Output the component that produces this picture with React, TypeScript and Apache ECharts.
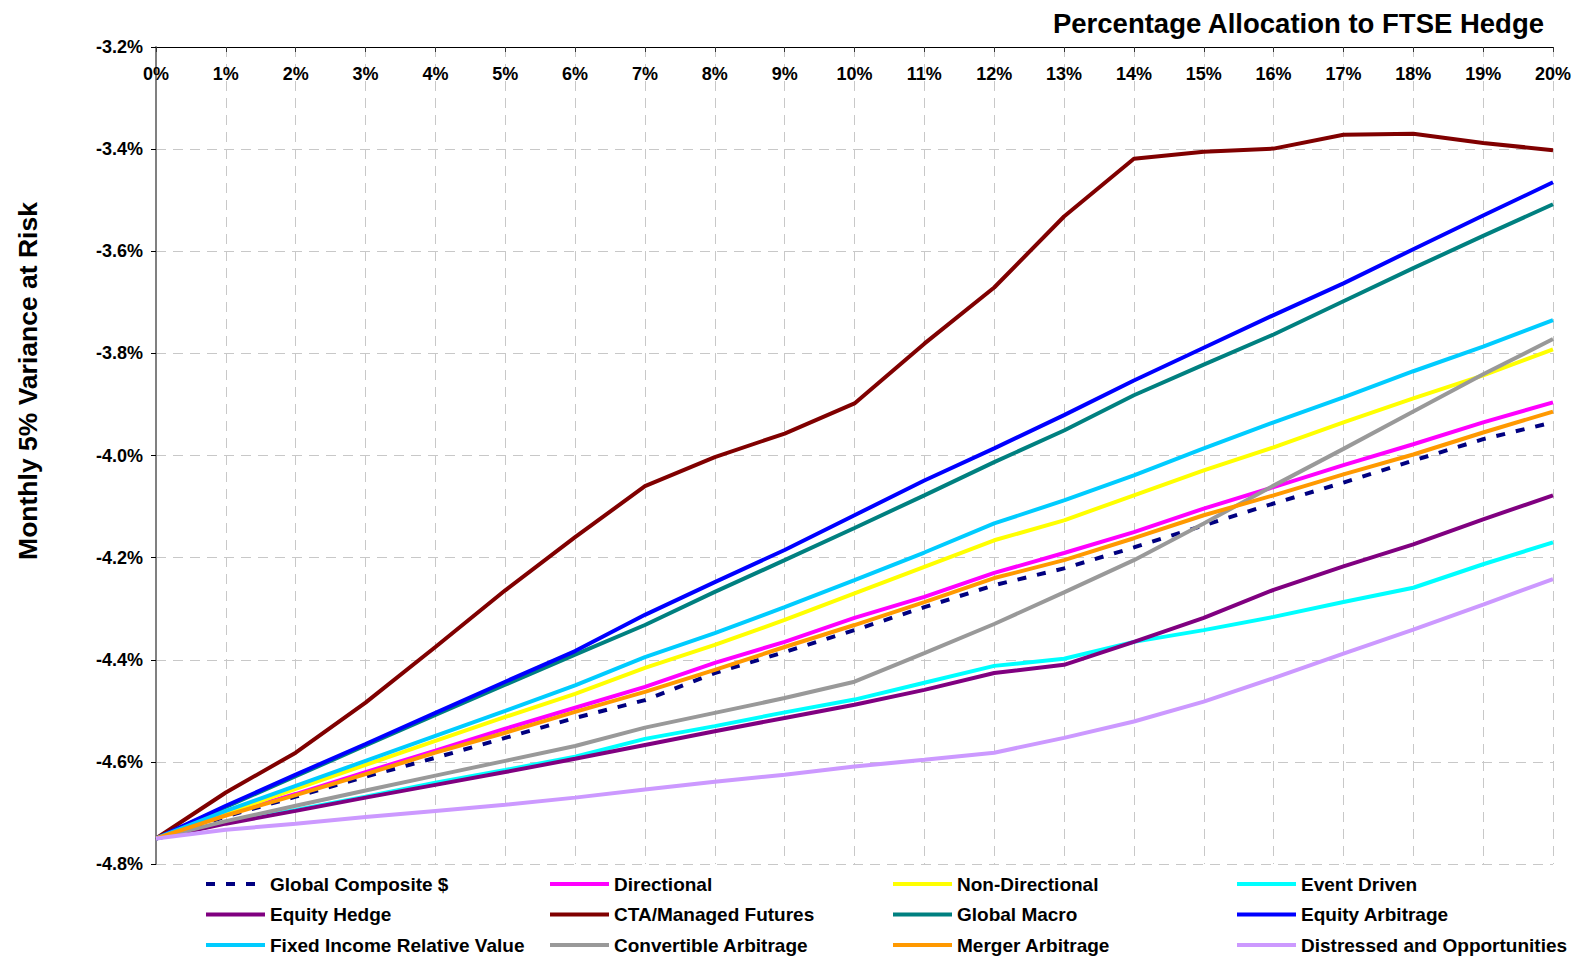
import React, { useEffect, useRef } from "react";
import * as echarts from "echarts";

const categories = ["0%", "1%", "2%", "3%", "4%", "5%", "6%", "7%", "8%", "9%", "10%", "11%", "12%", "13%", "14%", "15%", "16%", "17%", "18%", "19%", "20%"];

const globalComposite = [-4.75, -4.707, -4.668, -4.629, -4.592, -4.553, -4.514, -4.479, -4.426, -4.385, -4.342, -4.297, -4.254, -4.221, -4.18, -4.137, -4.094, -4.053, -4.01, -3.968, -3.935];
const directional = [-4.75, -4.703, -4.663, -4.62, -4.578, -4.535, -4.494, -4.453, -4.406, -4.365, -4.318, -4.277, -4.23, -4.191, -4.15, -4.104, -4.062, -4.019, -3.978, -3.935, -3.896];
const nonDirectional = [-4.75, -4.7, -4.653, -4.606, -4.559, -4.512, -4.467, -4.416, -4.371, -4.322, -4.27, -4.218, -4.166, -4.127, -4.078, -4.029, -3.984, -3.935, -3.888, -3.843, -3.792];
const eventDriven = [-4.75, -4.719, -4.694, -4.668, -4.641, -4.616, -4.59, -4.555, -4.53, -4.503, -4.478, -4.445, -4.412, -4.398, -4.365, -4.342, -4.316, -4.287, -4.259, -4.213, -4.17];
const equityHedge = [-4.75, -4.721, -4.696, -4.67, -4.645, -4.62, -4.594, -4.567, -4.54, -4.514, -4.488, -4.459, -4.426, -4.41, -4.365, -4.318, -4.263, -4.217, -4.174, -4.125, -4.078];
const ctaManagedFutures = [-4.75, -4.66, -4.582, -4.484, -4.375, -4.264, -4.16, -4.06, -4.003, -3.957, -3.898, -3.781, -3.671, -3.532, -3.419, -3.405, -3.399, -3.372, -3.37, -3.388, -3.402];
const globalMacro = [-4.75, -4.688, -4.628, -4.568, -4.508, -4.449, -4.39, -4.332, -4.267, -4.205, -4.142, -4.078, -4.013, -3.951, -3.882, -3.822, -3.763, -3.698, -3.633, -3.57, -3.508];
const equityArbitrage = [-4.75, -4.686, -4.625, -4.565, -4.504, -4.443, -4.383, -4.312, -4.248, -4.185, -4.117, -4.049, -3.986, -3.921, -3.853, -3.789, -3.725, -3.663, -3.596, -3.53, -3.465];
const fixedIncomeRV = [-4.75, -4.696, -4.647, -4.598, -4.549, -4.5, -4.45, -4.395, -4.348, -4.297, -4.244, -4.19, -4.133, -4.088, -4.039, -3.986, -3.935, -3.886, -3.835, -3.787, -3.735];
const convertibleArbitrage = [-4.75, -4.716, -4.686, -4.656, -4.627, -4.598, -4.569, -4.533, -4.504, -4.475, -4.443, -4.387, -4.33, -4.268, -4.205, -4.133, -4.059, -3.987, -3.914, -3.841, -3.772];
const mergerArbitrage = [-4.75, -4.705, -4.665, -4.624, -4.582, -4.543, -4.502, -4.463, -4.42, -4.375, -4.332, -4.287, -4.24, -4.205, -4.162, -4.117, -4.078, -4.037, -3.998, -3.955, -3.914];
const distressed = [-4.75, -4.733, -4.721, -4.708, -4.696, -4.684, -4.67, -4.654, -4.639, -4.625, -4.609, -4.596, -4.582, -4.553, -4.521, -4.482, -4.436, -4.388, -4.341, -4.292, -4.242];

const seriesNames = [
  "Global Composite $", "Directional", "Non-Directional", "Event Driven",
  "Equity Hedge", "CTA/Managed Futures", "Global Macro", "Equity Arbitrage",
  "Fixed Income Relative Value", "Convertible Arbitrage", "Merger Arbitrage", "Distressed and Opportunities",
];
const seriesData = [
  globalComposite, directional, nonDirectional, eventDriven,
  equityHedge, ctaManagedFutures, globalMacro, equityArbitrage,
  fixedIncomeRV, convertibleArbitrage, mergerArbitrage, distressed,
];
const seriesColors = [
  "#000080", "#FF00FF", "#FFFF00", "#00FFFF",
  "#800080", "#800000", "#008080", "#0000FF",
  "#00CCFF", "#999999", "#FF9900", "#CC99FF",
];

const yMin = -4.8;
const yMax = -3.2;
const yStep = 0.2;

const titleText = "Percentage Allocation to FTSE Hedge";
const yAxisTitle = "Monthly 5% Variance at Risk";

export default function App() {
  const ref = useRef<HTMLDivElement>(null);

  useEffect(() => {
    if (!ref.current) return;
    const chart = echarts.init(ref.current, null, { renderer: "svg" });
    const fontFamily = "'Liberation Sans', Arial, Helvetica, sans-serif";

    const series = seriesNames.map((name, i) => ({
      name,
      type: "line",
      data: seriesData[i],
      symbol: "none",
      smooth: false,
      silent: true,
      z: 2 + i,
      lineStyle: {
        color: seriesColors[i],
        width: 4,
        type: i === 0 ? [9, 11] : "solid",
        cap: "butt",
      },
      itemStyle: { color: seriesColors[i] },
    }));

    const legendCols = [
      { left: 204, names: [seriesNames[0], seriesNames[4], seriesNames[8]] },
      { left: 548, names: [seriesNames[1], seriesNames[5], seriesNames[9]] },
      { left: 891, names: [seriesNames[2], seriesNames[6], seriesNames[10]] },
      { left: 1235, names: [seriesNames[3], seriesNames[7], seriesNames[11]] },
    ];

    const legends = legendCols.map((c) => ({
      orient: "vertical",
      left: c.left,
      top: 874,
      padding: 0,
      itemGap: 10.5,
      itemWidth: 59,
      itemHeight: 14,
      selectedMode: false,
      data: c.names,
      itemStyle: { opacity: 0 },
      lineStyle: { width: 4 },
      textStyle: {
        fontFamily,
        fontWeight: "bold",
        fontSize: 19,
        lineHeight: 20,
        color: "#000",
      },
    }));

    const option = {
      animation: false,
      backgroundColor: "#ffffff",
      grid: { left: 156, right: 24, top: 47, bottom: 92, containLabel: false },
      legend: legends,
      xAxis: {
        type: "category",
        position: "top",
        data: categories,
        boundaryGap: false,
        axisLine: { show: true, onZero: false, lineStyle: { color: "#000", width: 1 } },
        axisTick: { show: true, inside: true, length: 5, alignWithLabel: true, lineStyle: { color: "#333" } },
        axisLabel: {
          inside: true,
          margin: 18,
          interval: 0,
          fontFamily,
          fontWeight: "bold",
          fontSize: 18,
          color: "#000",
        },
        splitLine: { show: true, lineStyle: { color: "#c8c8c8", width: 1, type: [10, 7] } },
      },
      yAxis: {
        type: "value",
        min: yMin,
        max: yMax,
        interval: yStep,
        axisLine: { show: true, onZero: false, lineStyle: { color: "#808080", width: 2 } },
        axisTick: { show: true, length: 5, lineStyle: { color: "#000" } },
        axisLabel: {
          margin: 13,
          fontFamily,
          fontWeight: "bold",
          fontSize: 18,
          color: "#000",
          formatter: (v: number) => v.toFixed(1) + "%",
        },
        splitLine: { show: true, lineStyle: { color: "#c8c8c8", width: 1, type: [10, 7] } },
      },
      graphic: [
        {
          type: "text",
          x: 1544,
          y: 23,
          style: {
            text: titleText,
            fill: "#000",
            font: `bold 27.5px ${fontFamily}`,
            textAlign: "right",
            textVerticalAlign: "middle",
          },
        },
        {
          type: "text",
          x: 28,
          y: 381,
          rotation: Math.PI / 2,
          style: {
            text: yAxisTitle,
            fill: "#000",
            font: `bold 26.5px ${fontFamily}`,
            textAlign: "center",
            textVerticalAlign: "middle",
          },
        },
      ],
      series,
    };

    chart.setOption(option as any);
    return () => chart.dispose();
  }, []);

  return (
    <div
      ref={ref}
      style={{ position: "absolute", left: 0, top: 0, width: 1577, height: 956 }}
    />
  );
}
